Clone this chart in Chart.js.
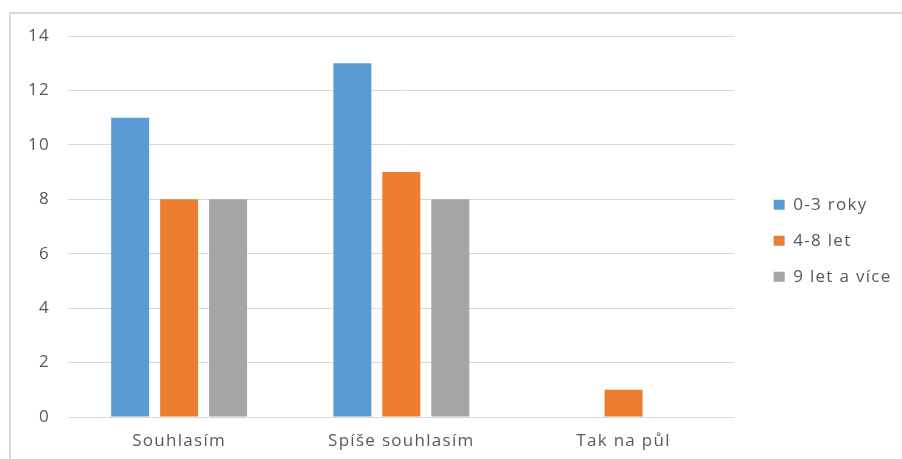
<!DOCTYPE html>
<html>
<head>
<meta charset="utf-8">
<script src="https://cdn.jsdelivr.net/npm/chart.js@4"></script>
<style>
  html, body { margin: 0; padding: 0; background: #fff; }
  #frame {
    position: absolute; left: 9px; top: 12px; width: 891px; height: 445px;
    border-left: 2px solid #d9d9d9; border-top: 2px solid #d9d9d9;
  }
  #chart { display: block; }
</style>
</head>
<body>
<div id="frame"><canvas id="chart" width="891" height="445"></canvas></div>
<script>
const categories = ["Souhlasím", "Spíše souhlasím", "Tak na půl"];
const seriesNames = ["0-3 roky", "4-8 let", "9 let a více"];
const values03 = [11, 13, 0];
const values48 = [8, 9, 1];
const values9plus = [8, 8, 0];
const colors = ["#5b9bd5", "#ed7d31", "#a5a5a5"];

const font = { family: "'Open Sans', 'Noto Sans', sans-serif", size: 17 };
const textColor = "#595959";

const allValues = [values03, values48, values9plus];
const datasets = seriesNames.map((name, i) => ({
  label: name,
  data: allValues[i],
  backgroundColor: colors[i],
  borderWidth: 0,
  categoryPercentage: 0.661,
  barPercentage: 0.776
}));

// the picture's text is a little stretched, so space the letters out
const spacing = {
  id: 'spacing',
  beforeUpdate(chart) { chart.ctx.letterSpacing = '1.3px'; },
  beforeDraw(chart) { chart.ctx.letterSpacing = '1.3px'; }
};

new Chart(document.getElementById("chart").getContext("2d"), {
  type: 'bar',
  data: { labels: categories, datasets: datasets },
  plugins: [spacing],
  options: {
    responsive: false,
    animation: false,
    layout: { padding: { left: 17, top: 0, right: 2, bottom: 0 } },
    plugins: {
      tooltip: { enabled: false },
      legend: {
        position: 'right',
        // empty title only nudges the legend items down a little
        title: { display: true, text: '', padding: 0, font: { size: 7 } },
        labels: {
          boxWidth: 11, boxHeight: 10, padding: 19,
          color: textColor, font: font
        }
      }
    },
    scales: {
      x: {
        grid: { display: false, drawTicks: false },
        border: { display: false },
        ticks: { color: textColor, font: font, padding: 14 },
        afterFit: s => { s.height = 42; }
      },
      y: {
        min: 0, max: 14,
        ticks: { stepSize: 2, color: textColor, font: font, padding: 18 },
        grid: { color: "#d9d9d9", lineWidth: 1, drawTicks: false },
        border: { display: false },
        afterFit: s => { s.width = 40; s.paddingTop = 22; s.paddingBottom = 0; }
      },
      gap: {
        position: 'right',
        grid: { display: false, drawTicks: false },
        border: { display: false },
        ticks: { display: false },
        afterFit: s => { s.width = 20; }
      }
    }
  }
});
</script>
</body>
</html>
